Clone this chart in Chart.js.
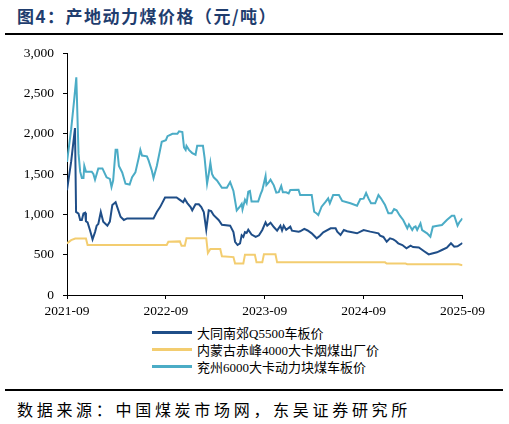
<!DOCTYPE html>
<html>
<head>
<meta charset="utf-8">
<script src="https://cdn.jsdelivr.net/npm/chart.js@4.4.1/dist/chart.umd.min.js"></script>
<style>
  body { margin: 0; background: #fff; width: 509px; height: 424px; position: relative; overflow: hidden; }
  .title { position: absolute; left: 17px; top: 3px; font-family: "Noto Sans CJK SC", sans-serif; font-weight: bold; font-size: 17px; color: #1f3d6e; letter-spacing: 1.5px; }
  .rule { position: absolute; left: 5px; width: 498px; height: 2px; background: #000; }
  #chart { position: absolute; left: 0; top: 36px; }
  #legend { position: absolute; left: 152px; top: 324px; font-family: "Liberation Serif", "Noto Sans CJK SC", serif; font-size: 13px; color: #000; }
  #legend .row { height: 17px; display: flex; align-items: center; }
  #legend .swatch { width: 40px; height: 2.5px; margin-right: 5px; }
  .source { position: absolute; left: 17px; top: 397px; font-family: "Noto Sans CJK SC", sans-serif; font-size: 16px; letter-spacing: 3.7px; color: #000; }
</style>
</head>
<body>
<div class="title">图4：产地动力煤价格（元/吨）</div>
<div class="rule" style="top:33px"></div>
<canvas id="chart" width="509" height="287"></canvas>
<div id="legend"></div>
<div class="rule" style="top:389px"></div>
<div class="source">数据来源：中国煤炭市场网，东吴证券研究所</div>

<script>
// x = 距 2021-09 的月数
const tickLabels = ['2021-09', '2022-09', '2023-09', '2024-09', '2025-09'];
const seriesNames = ['大同南郊Q5500车板价', '内蒙古赤峰4000大卡烟煤出厂价', '兖州6000大卡动力块煤车板价'];
const seriesColors = ['#1f4e88', '#f3cd70', '#4bacc6'];

// 大同南郊Q5500车板价
const datongSeries = [
  [0, 1300], [0.5, 1650], [0.97, 2070], [1.1, 1030], [1.4, 1010], [1.6, 930], [1.8, 930],
  [2.0, 1010], [2.2, 1020], [2.3, 915], [2.5, 900], [2.8, 800], [3.1, 690], [3.4, 780],
  [3.6, 860], [3.8, 880], [4.1, 1030], [4.4, 910], [4.9, 860], [5.2, 910], [5.5, 1115],
  [5.9, 1150], [6.1, 1090], [6.5, 970], [6.9, 930], [7.3, 950], [10.5, 950], [10.9, 1030],
  [11.3, 1090], [11.9, 1210], [13.3, 1210], [13.7, 1180], [14.1, 1150], [14.3, 1190],
  [14.6, 1140], [15.0, 1090], [15.2, 1050], [15.6, 1125], [16.0, 1125], [16.3, 1090],
  [16.6, 1030], [16.9, 810], [17.2, 1050], [17.5, 1040], [17.8, 990], [18.4, 930],
  [18.8, 870], [19.8, 860], [20.2, 780], [20.4, 660], [20.7, 620], [21.0, 640], [21.2, 740],
  [21.4, 720], [21.6, 780], [21.8, 770], [22.0, 810], [22.4, 750], [22.9, 720], [23.3, 740],
  [23.7, 806], [24.1, 900], [24.3, 860], [24.7, 897], [25.1, 843], [25.5, 798], [25.9, 860],
  [26.1, 800], [26.3, 860], [26.6, 810], [27.1, 848], [27.3, 798], [28.1, 786], [28.3, 790],
  [28.8, 819], [29.2, 800], [29.7, 765], [30.3, 703], [30.7, 736], [31.1, 777], [32.0, 827],
  [32.6, 827], [32.8, 786], [33.2, 744], [33.6, 806], [34.0, 790], [35.2, 765], [36.0, 806],
  [36.8, 786], [37.8, 765], [38.0, 736], [38.4, 720], [38.8, 661], [39.2, 703], [39.6, 690],
  [39.9, 670], [40.2, 641], [40.7, 620], [41.2, 579], [41.7, 611], [42.0, 595], [42.7, 590],
  [43.3, 546], [43.9, 504], [44.2, 512], [44.9, 529], [45.5, 558], [46.1, 587], [46.6, 641],
  [47.0, 599], [47.4, 605], [48.0, 645]
];

// 内蒙古赤峰4000大卡烟煤出厂价
const chifengSeries = [
  [0, 640], [0.5, 680], [1.0, 700], [2.3, 700], [2.5, 620], [12.1, 620], [12.3, 660],
  [13.7, 665], [13.9, 610], [14.3, 610], [14.5, 705], [16.9, 705], [17.1, 520], [17.4, 570],
  [18.6, 570], [18.8, 480], [20.2, 470], [20.4, 390], [21.4, 390], [21.6, 500], [22.8, 500],
  [23.0, 405], [23.7, 405], [23.9, 505], [25.3, 505], [25.5, 405], [38.6, 405], [38.8, 390],
  [41.1, 390], [41.3, 380], [47.5, 380], [48.0, 368]
];

// 兖州6000大卡动力块煤车板价
const yanzhouSeries = [
  [0, 1650], [0.5, 2050], [0.9, 2450], [1.13, 2700], [1.4, 1750], [1.6, 1530], [1.8, 1450],
  [2.0, 1450], [2.1, 1600], [2.3, 1530], [3.0, 1530], [3.2, 1500], [3.4, 1430], [3.8, 1570],
  [4.3, 1570], [4.8, 1460], [5.2, 1440], [5.4, 1340], [5.6, 1420], [5.9, 1800], [6.1, 1800],
  [6.3, 1600], [6.7, 1520], [7.1, 1380], [7.6, 1370], [7.9, 1460], [8.3, 1520], [8.7, 1700],
  [8.9, 1800], [9.1, 1730], [9.7, 1720], [9.9, 1670], [10.3, 1540], [10.5, 1450], [10.9, 1600],
  [11.5, 1900], [12.0, 1920], [12.2, 1970], [12.8, 2000], [13.4, 2000], [13.6, 2030],
  [14.0, 2020], [14.2, 1830], [14.4, 1800], [14.5, 1850], [14.8, 1800], [15.2, 1760],
  [15.6, 1740], [15.8, 1850], [16.5, 1850], [16.7, 1700], [17.0, 1380], [17.2, 1500],
  [17.4, 1640], [17.6, 1500], [17.8, 1460], [18.2, 1420], [18.8, 1330], [19.4, 1330],
  [19.8, 1400], [20.2, 1290], [20.6, 1050], [21.0, 1100], [21.2, 1130], [21.3, 1060],
  [21.6, 1180], [21.8, 1140], [22.0, 1280], [22.2, 1290], [22.4, 1160], [23.2, 1160],
  [23.5, 1250], [23.7, 1300], [24.1, 1475], [24.2, 1364], [24.5, 1400], [24.7, 1430],
  [25.1, 1360], [25.4, 1269], [25.7, 1275], [26.0, 1352], [26.2, 1273], [26.6, 1273],
  [26.9, 1260], [27.1, 1302], [28.1, 1306], [28.3, 1240], [29.7, 1240], [30.0, 1032],
  [30.3, 1010], [30.5, 992], [30.9, 1095], [31.4, 1157], [31.7, 1199], [31.9, 1137],
  [32.3, 1240], [33.0, 1240], [33.4, 1166], [34.4, 1137], [35.2, 1108], [35.6, 1191],
  [36.0, 1195], [36.3, 1265], [36.6, 1195], [36.9, 1137], [37.4, 1137], [37.8, 1240],
  [38.1, 1199], [38.6, 1116], [39.0, 1013], [39.4, 1013], [39.7, 1066], [40.0, 1050],
  [40.4, 984], [40.8, 930], [41.3, 827], [41.5, 876], [41.9, 806], [42.1, 840], [42.3, 850],
  [42.5, 806], [42.9, 889], [43.1, 806], [43.7, 765], [44.1, 723], [44.4, 847], [44.8, 855],
  [45.5, 868], [46.1, 930], [46.7, 984], [47.0, 984], [47.4, 860], [47.6, 900], [48.0, 950]
];

const allSeries = [datongSeries, chifengSeries, yanzhouSeries];

function toPoints(series) {
  return series.map(p => ({ x: p[0], y: p[1] }));
}

const datasets = allSeries.map((s, i) => ({
  label: seriesNames[i],
  data: toPoints(s),
  borderColor: seriesColors[i],
  backgroundColor: seriesColors[i],
  borderWidth: 2,
  pointRadius: 0,
  tension: 0,
  fill: false
}));

const tickFont = { family: '"Liberation Serif", "Times New Roman", serif', size: 13.5 };

// 图例做成竖排，放在坐标轴下方
const htmlLegend = {
  id: 'htmlLegend',
  afterUpdate(chart) {
    const box = document.getElementById('legend');
    box.innerHTML = '';
    chart.data.datasets.forEach(ds => {
      const row = document.createElement('div');
      row.className = 'row';
      const sw = document.createElement('div');
      sw.className = 'swatch';
      sw.style.background = ds.borderColor;
      const txt = document.createElement('span');
      txt.textContent = ds.label;
      row.appendChild(sw);
      row.appendChild(txt);
      box.appendChild(row);
    });
  }
};

new Chart(document.getElementById('chart').getContext('2d'), {
  type: 'line',
  data: { datasets: datasets },
  plugins: [htmlLegend],
  options: {
    responsive: false,
    animation: false,
    layout: { padding: { top: 8, right: 46.5, left: 0, bottom: 0 } },
    plugins: {
      legend: { display: false },
      tooltip: { enabled: false }
    },
    scales: {
      x: {
        type: 'linear',
        min: 0,
        max: 48,
        afterFit: scale => { scale.height = 28; },
        ticks: {
          stepSize: 12,
          color: '#000',
          font: tickFont,
          padding: 4,
          maxRotation: 0,
          callback: v => tickLabels[v / 12]
        },
        grid: { display: true, drawOnChartArea: false, drawTicks: true, tickLength: 4, color: '#000' },
        border: { display: true, color: '#000', width: 1 }
      },
      y: {
        min: 0,
        max: 3000,
        afterFit: scale => { scale.width = 67; },
        ticks: {
          stepSize: 500,
          color: '#000',
          font: tickFont,
          padding: 9,
          callback: v => v.toLocaleString('en-US')
        },
        grid: { display: true, drawOnChartArea: false, drawTicks: true, tickLength: 4, color: '#000' },
        border: { display: true, color: '#000', width: 1 }
      }
    }
  }
});
</script>
</body>
</html>
